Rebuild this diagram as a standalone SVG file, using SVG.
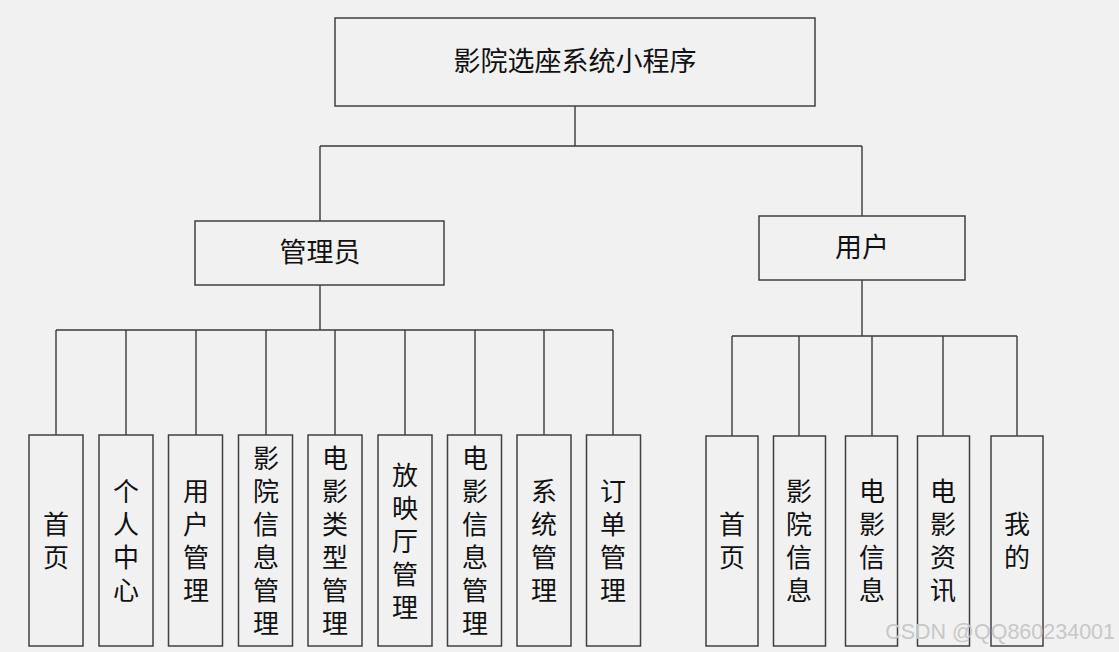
<svg xmlns="http://www.w3.org/2000/svg" width="1119" height="652" viewBox="0 0 1119 652">
<style>
.box{fill:#f1f1f1;stroke:#404040;stroke-width:1.5}
.t{font-family:"Liberation Sans","Noto Sans CJK SC",sans-serif;font-size:26px;fill:#111;text-anchor:middle}
.h{font-size:27px}
.c{fill:none;stroke:#3a3a3a;stroke-width:1.4}
.wm{font-family:"Liberation Sans","Noto Sans",sans-serif;font-size:21.5px;fill:#c8c8c8;text-anchor:end}
</style>
<rect width="1119" height="652" fill="#f1f1f1"/>
<g id="connectors">
<path class="c" d="M575 106V146M320 146H862M320 146V221M862 146V216"/>
<path class="c" d="M320 285V330M56 330H613M56 330V435M126 330V435M196 330V435M266 330V435M335 330V435M405 330V435M475 330V435M544 330V435M613 330V435"/>
<path class="c" d="M862 280V336M732 336H1017M732 336V436M799 336V436M872 336V436M943 336V436M1017 336V436"/>
</g>
<g id="root"><rect class="box" x="335" y="18" width="480" height="88"/><text class="t h" x="575" y="71">影院选座系统小程序</text></g>
<g id="admin"><rect class="box" x="195" y="221" width="249" height="64"/><text class="t h" x="320" y="262">管理员</text></g>
<g id="user"><rect class="box" x="759" y="216" width="206" height="64"/><text class="t h" x="862" y="257">用户</text></g>
<g id="a1"><rect class="box" x="29" y="435" width="54" height="211"/><text class="t"><tspan x="56" y="534">首</tspan><tspan x="56" dy="33">页</tspan></text></g>
<g id="a2"><rect class="box" x="99" y="435" width="54" height="211"/><text class="t"><tspan x="126" y="501">个</tspan><tspan x="126" dy="33">人</tspan><tspan x="126" dy="33">中</tspan><tspan x="126" dy="33">心</tspan></text></g>
<g id="a3"><rect class="box" x="168.5" y="435" width="54" height="211"/><text class="t"><tspan x="196" y="501">用</tspan><tspan x="196" dy="33">户</tspan><tspan x="196" dy="33">管</tspan><tspan x="196" dy="33">理</tspan></text></g>
<g id="a4"><rect class="box" x="238.5" y="435" width="54" height="211"/><text class="t"><tspan x="266" y="468">影</tspan><tspan x="266" dy="33">院</tspan><tspan x="266" dy="33">信</tspan><tspan x="266" dy="33">息</tspan><tspan x="266" dy="33">管</tspan><tspan x="266" dy="33">理</tspan></text></g>
<g id="a5"><rect class="box" x="308" y="435" width="54" height="211"/><text class="t"><tspan x="335" y="468">电</tspan><tspan x="335" dy="33">影</tspan><tspan x="335" dy="33">类</tspan><tspan x="335" dy="33">型</tspan><tspan x="335" dy="33">管</tspan><tspan x="335" dy="33">理</tspan></text></g>
<g id="a6"><rect class="box" x="378" y="435" width="54" height="211"/><text class="t"><tspan x="405" y="485">放</tspan><tspan x="405" dy="33">映</tspan><tspan x="405" dy="33">厅</tspan><tspan x="405" dy="33">管</tspan><tspan x="405" dy="33">理</tspan></text></g>
<g id="a7"><rect class="box" x="447.5" y="435" width="54" height="211"/><text class="t"><tspan x="475" y="468">电</tspan><tspan x="475" dy="33">影</tspan><tspan x="475" dy="33">信</tspan><tspan x="475" dy="33">息</tspan><tspan x="475" dy="33">管</tspan><tspan x="475" dy="33">理</tspan></text></g>
<g id="a8"><rect class="box" x="517" y="435" width="54" height="211"/><text class="t"><tspan x="544" y="501">系</tspan><tspan x="544" dy="33">统</tspan><tspan x="544" dy="33">管</tspan><tspan x="544" dy="33">理</tspan></text></g>
<g id="a9"><rect class="box" x="586.5" y="435" width="54" height="211"/><text class="t"><tspan x="613" y="501">订</tspan><tspan x="613" dy="33">单</tspan><tspan x="613" dy="33">管</tspan><tspan x="613" dy="33">理</tspan></text></g>
<g id="u1"><rect class="box" x="706" y="436" width="52" height="210"/><text class="t"><tspan x="732" y="534">首</tspan><tspan x="732" dy="33">页</tspan></text></g>
<g id="u2"><rect class="box" x="773.5" y="436" width="52" height="210"/><text class="t"><tspan x="799" y="501">影</tspan><tspan x="799" dy="33">院</tspan><tspan x="799" dy="33">信</tspan><tspan x="799" dy="33">息</tspan></text></g>
<g id="u3"><rect class="box" x="845.5" y="436" width="52" height="210"/><text class="t"><tspan x="872" y="501">电</tspan><tspan x="872" dy="33">影</tspan><tspan x="872" dy="33">信</tspan><tspan x="872" dy="33">息</tspan></text></g>
<g id="u4"><rect class="box" x="917.5" y="436" width="52" height="210"/><text class="t"><tspan x="943" y="501">电</tspan><tspan x="943" dy="33">影</tspan><tspan x="943" dy="33">资</tspan><tspan x="943" dy="33">讯</tspan></text></g>
<g id="u5"><rect class="box" x="991" y="436" width="52" height="210"/><text class="t"><tspan x="1017" y="534">我</tspan><tspan x="1017" dy="33">的</tspan></text></g>
<text class="wm" x="1115" y="639">CSDN @QQ860234001</text>
</svg>
